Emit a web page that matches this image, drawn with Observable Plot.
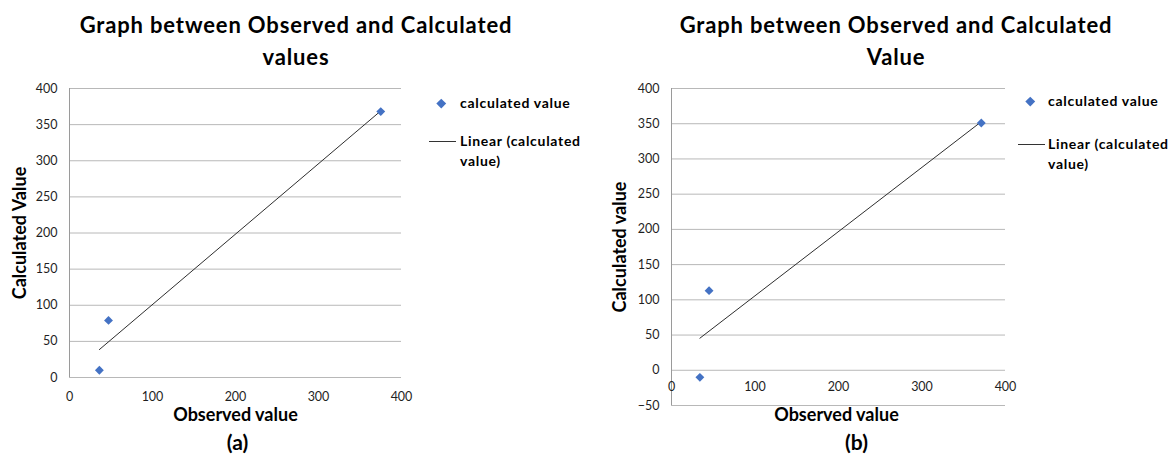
<!DOCTYPE html>
<html><head><meta charset="utf-8">
<script src="https://cdn.jsdelivr.net/npm/d3@7"></script>
<script src="https://cdn.jsdelivr.net/npm/@observablehq/plot@0.6"></script>
<style>
body{margin:0;background:#fff;font-family:Lato,"Open Sans",sans-serif;}
#root{position:relative;width:1172px;height:460px;overflow:hidden;background:#fff;}
.title{position:absolute;top:9px;width:520px;font-weight:bold;font-size:22px;letter-spacing:0.85px;line-height:32px;text-align:center;color:#000;white-space:nowrap;}
.chart{position:absolute;top:70px;}
.leg{position:absolute;font-weight:bold;font-size:14px;letter-spacing:0.7px;color:#000;line-height:20px;white-space:nowrap;}
.dia{position:absolute;width:6.5px;height:6.5px;background:#4472c4;transform:rotate(45deg);}
.ln{position:absolute;height:1px;background:#333;}
</style></head><body><div id="root"></div>
<script>
// ---- data ----
const observedA = [36, 47, 375];
const calculatedA = [10, 79, 368];
const observedB = [34, 45, 371];
const calculatedB = [-10, 113, 351];
const xTicks = [0, 100, 200, 300, 400];
const yTicksA = [0, 50, 100, 150, 200, 250, 300, 350, 400];
const yTicksB = [-50, 0, 50, 100, 150, 200, 250, 300, 350, 400];
const titleA = ["Graph between Observed and Calculated", "values"];
const titleB = ["Graph between Observed and Calculated", "Value"];
const yLabelA = "Calculated Value";
const yLabelB = "Calculated value";
const xLabel = "Observed value";
const panelA = "(a)";
const panelB = "(b)";
const seriesName = "calculated value";
const trendName = ["Linear (calculated", "value)"];

const root = document.getElementById("root");

function makeChart(cfg) {
  const data = cfg.obs.map((o, i) => ({obs: o, calc: cfg.calc[i]}));
  const svg = Plot.plot({
    width: cfg.width, height: 390,
    marginTop: 18, marginLeft: cfg.ml, marginRight: cfg.mr, marginBottom: cfg.mb,
    x: {domain: [0, 400], axis: null},
    y: {domain: [cfg.yTicks[0], 400]},
    style: {fontFamily: "Lato, 'Open Sans', sans-serif", background: "white", overflow: "visible", color: "#1f1f1f"},
    marks: [
      Plot.ruleY(cfg.yTicks, {stroke: "#b8b8b8", strokeWidth: 1}),
      Plot.ruleX([0], {stroke: "#9a9a9a", strokeWidth: 1}),
      Plot.axisY(cfg.yTicks, {tickSize: 0, tickPadding: 12, fontSize: 12.5, label: null}),
      Plot.text(xTicks, {x: d => d, y: () => 0, text: d => String(d), dy: cfg.xTickDy, fontSize: 12.5, fill: "#1f1f1f"}),
      Plot.linearRegressionY(data, {x: "obs", y: "calc", stroke: "#2e2e2e", strokeWidth: 1, ci: 0}),
      Plot.dot(data, {x: "obs", y: "calc", symbol: "diamond2", r: 4, fill: "#4472c4", stroke: null}),
      Plot.text([cfg.yLabel], {text: d => d, frameAnchor: "left", textAnchor: "middle", dx: cfg.yLabelDx, rotate: -90, fontSize: 18, fontWeight: "bold", fill: "#000"}),
      Plot.text([xLabel], {text: d => d, frameAnchor: "bottom", dy: cfg.xTitleDy, dx: cfg.xTitleDx, fontSize: 18, fontWeight: "bold", fill: "#000"}),
      Plot.text([cfg.panel], {text: d => d, frameAnchor: "bottom", dy: cfg.panelDy, dx: cfg.panelDx, fontSize: 21, fontWeight: "bold", fill: "#000"})
    ]
  });
  const wrap = document.createElement("div");
  wrap.className = "chart";
  wrap.style.left = cfg.left + "px";
  wrap.appendChild(svg);
  root.appendChild(wrap);

  const t = document.createElement("div");
  t.className = "title";
  t.style.left = cfg.titleLeft + "px";
  t.innerHTML = cfg.title.join("<br>");
  root.appendChild(t);

  const d = document.createElement("div");
  d.className = "dia";
  d.style.left = (cfg.legX - 3.25) + "px";
  d.style.top = (cfg.legY1 - 3.25) + "px";
  root.appendChild(d);
  const l1 = document.createElement("div");
  l1.className = "leg";
  l1.style.left = cfg.legTextX + "px";
  l1.style.top = (cfg.legY1 - 10) + "px";
  l1.textContent = seriesName;
  root.appendChild(l1);
  const ln = document.createElement("div");
  ln.className = "ln";
  ln.style.left = cfg.lineX + "px";
  ln.style.width = "27px";
  ln.style.top = cfg.legY2 + "px";
  root.appendChild(ln);
  const l2 = document.createElement("div");
  l2.className = "leg";
  l2.style.left = cfg.legTextX + "px";
  l2.style.top = (cfg.legY2 - 10) + "px";
  l2.innerHTML = trendName.join("<br>");
  root.appendChild(l2);
}

makeChart({
  obs: observedA, calc: calculatedA, yTicks: yTicksA,
  left: 0, width: 420, ml: 69, mr: 19, mb: 83,
  xTickDy: 19, yLabel: yLabelA, yLabelDx: -49,
  xTitleDy: 43, xTitleDx: 0, panel: panelA, panelDy: 72, panelDx: 2,
  title: titleA, titleLeft: 36,
  legX: 441, legY1: 103, legTextX: 460, lineX: 429, legY2: 141
});
makeChart({
  obs: observedB, calc: calculatedB, yTicks: yTicksB,
  left: 586, width: 440, ml: 85, mr: 21, mb: 55,
  xTickDy: 17, yLabel: yLabelB, yLabelDx: -51,
  xTitleDy: 15, xTitleDx: -2, panel: panelB, panelDy: 44, panelDx: 18,
  title: titleB, titleLeft: 636,
  legX: 1030, legY1: 101, legTextX: 1048, lineX: 1018, legY2: 144
});
</script></body></html>
